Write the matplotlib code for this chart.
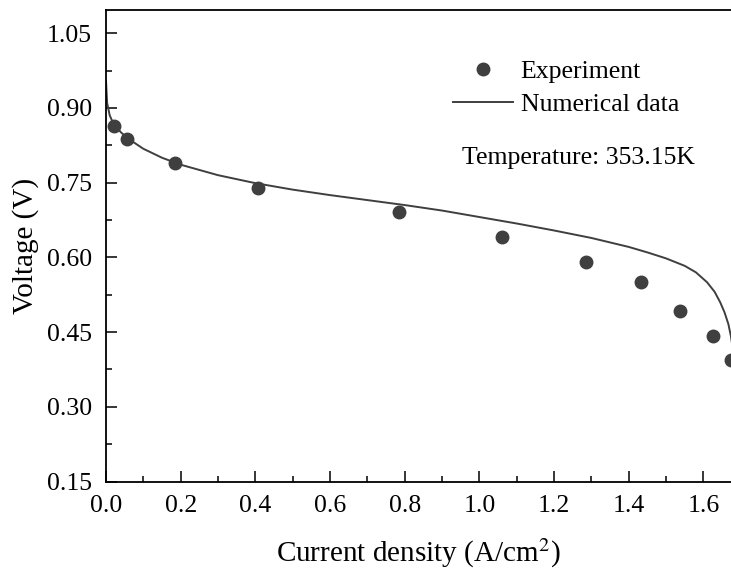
import matplotlib

matplotlib.use("Agg")
import matplotlib.pyplot as plt
from matplotlib.ticker import MultipleLocator

# experimental polarization points
exp_i = [0.021, 0.056, 0.185, 0.407, 0.785, 1.061, 1.286, 1.433, 1.538, 1.626, 1.673]
exp_v = [0.864, 0.838, 0.789, 0.740, 0.692, 0.640, 0.591, 0.551, 0.493, 0.443, 0.394]

# numerical model curve
num_i = [0.0, 0.003, 0.01, 0.02, 0.04, 0.06, 0.1, 0.15, 0.2, 0.3, 0.4, 0.5, 0.6,
         0.7, 0.8, 0.9, 1.0, 1.1, 1.2, 1.3, 1.4, 1.45, 1.5, 1.55, 1.58, 1.61,
         1.63, 1.645, 1.657, 1.667, 1.674, 1.68]
num_v = [0.955, 0.91, 0.885, 0.868, 0.851, 0.838, 0.818, 0.800, 0.786, 0.765,
         0.749, 0.736, 0.725, 0.715, 0.705, 0.694, 0.681, 0.668, 0.654, 0.639,
         0.621, 0.610, 0.598, 0.583, 0.570, 0.550, 0.531, 0.510, 0.489, 0.466,
         0.441, 0.41]

col = "#3f3f3f"
fs = 18.5
lfs = 21
plt.rcParams["font.family"] = ["Liberation Serif", "DejaVu Serif"]
plt.rcParams["mathtext.fontset"] = "stix"

fig = plt.figure(figsize=(7.31, 5.74), dpi=100)
ax = fig.add_axes([0.145, 0.161, 0.855, 0.822])

ax.plot(exp_i, exp_v, "o", color=col, ms=9, mec=col, label="Experiment")
ax.plot(num_i, num_v, "-", color=col, lw=1.4, label="Numerical data")

ax.set_xlim(0, 1.674)
ax.set_ylim(0.15, 1.097)
ax.xaxis.set_major_locator(MultipleLocator(0.2))
ax.xaxis.set_minor_locator(MultipleLocator(0.1))
ax.yaxis.set_major_locator(MultipleLocator(0.15))
ax.yaxis.set_minor_locator(MultipleLocator(0.075))
ax.xaxis.set_major_formatter(plt.FuncFormatter(lambda v, p: f"{v:.1f}"))
ax.yaxis.set_major_formatter(plt.FuncFormatter(lambda v, p: f"{v:.2f}"))

ax.tick_params(which="both", direction="in", width=1.1, labelsize=fs, top=False, right=False)
ax.tick_params(which="major", length=8)
ax.tick_params(which="minor", length=4)
ax.tick_params(axis="x", pad=10)
ax.tick_params(axis="y", pad=10)
for s in ("left", "bottom", "top"):
    ax.spines[s].set_linewidth(1.3)
ax.spines["right"].set_visible(False)

ax.set_xlabel("Current density (A/cm$^2$)", fontsize=lfs, labelpad=14)
ax.set_ylabel("Voltage (V)", fontsize=lfs, labelpad=6)

ax.legend(loc="upper left", bbox_to_anchor=(0.555, 0.894), frameon=False, fontsize=fs,
          handlelength=2.33, handletextpad=0.31, labelspacing=0.4, borderaxespad=0,
          borderpad=0)
ax.text(0.57, 0.686, "Temperature: 353.15K", transform=ax.transAxes, fontsize=fs,
        va="center", ha="left")

fig.savefig("out.png", dpi=100)
